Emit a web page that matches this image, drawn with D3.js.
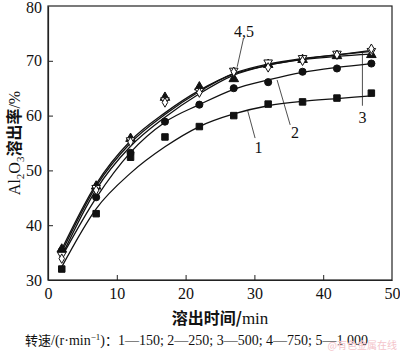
<!DOCTYPE html>
<html>
<head>
<meta charset="utf-8">
<script src="https://cdn.jsdelivr.net/npm/d3@7"></script>
<style>
  body { margin: 0; background: #fff; }
  svg { display: block; }
</style>
</head>
<body>
<div id="chart"></div>
<script>
// sampling times (min)
const times = [2, 7, 12, 17, 22, 27, 32, 37, 42, 47];

// measured points, Al2O3 leaching rate (%)
const s1 = [32.0, 42.1, 52.4, 56.1, 58.0, 60.0, 62.1, 62.5, 63.2, 64.1];
const s2 = [35.3, 45.1, 53.2, 58.9, 62.0, 65.0, 66.1, 68.0, 68.6, 69.5];
const s3 = [35.6, 47.1, 55.8, 63.3, 65.2, 66.7, 69.3, 70.2, 70.9, 71.1];
const s4 = [34.6, 46.8, 55.5, 62.8, 64.5, 68.2, 69.7, 70.5, 71.3, 71.8];
const s5 = [33.9, 46.4, 55.2, 62.4, 64.2, 68.0, 68.8, 70.0, 71.1, 72.2];

// fitted curves at the same times
const f1 = [32.4, 43.0, 49.5, 54.3, 58.0, 60.3, 61.8, 62.6, 63.1, 63.6];
const f2 = [34.2, 45.0, 53.3, 58.8, 62.0, 64.8, 66.5, 67.9, 68.8, 69.5];
const f3 = [35.6, 47.5, 55.4, 60.5, 64.6, 67.6, 69.2, 70.2, 70.8, 71.2];
const f4 = [35.1, 47.1, 55.0, 60.2, 64.4, 67.7, 69.4, 70.4, 71.1, 71.7];
const f5 = [34.4, 46.5, 54.4, 59.7, 64.0, 67.4, 69.2, 70.3, 71.1, 71.9];

const xTicks = [0, 10, 20, 30, 40, 50];
const yTicks = [30, 40, 50, 60, 70, 80];

const W = 400, H = 353;
const margin = { top: 6, right: 8, bottom: 73, left: 48 };
const width = W - margin.left - margin.right;
const height = H - margin.top - margin.bottom;

const svg = d3.select("#chart").append("svg")
  .attr("width", W).attr("height", H);

const g = svg.append("g")
  .attr("transform", `translate(${margin.left},${margin.top})`);

const x = d3.scaleLinear().domain([0, 50]).range([0, width]);
const y = d3.scaleLinear().domain([30, 80]).range([height, 0]);

const serif = "'Liberation Serif', 'Times New Roman', serif";

// frame
g.append("rect")
  .attr("width", width).attr("height", height)
  .attr("fill", "none").attr("stroke", "#222").attr("stroke-width", 1.2);

const xAxis = d3.axisBottom(x).tickValues(xTicks).tickSizeInner(-5).tickSizeOuter(0).tickPadding(8);
const yAxis = d3.axisLeft(y).tickValues(yTicks).tickSizeInner(-5).tickSizeOuter(0).tickPadding(6);

const gx = g.append("g").attr("transform", `translate(0,${height})`).call(xAxis);
const gy = g.append("g").call(yAxis);

[gx, gy].forEach(a => {
  a.select(".domain").attr("stroke", "#222").attr("stroke-width", 1.2);
  a.selectAll(".tick line").attr("stroke", "#222").attr("stroke-width", 1);
  a.selectAll(".tick text")
    .attr("fill", "#111")
    .style("font-family", serif)
    .style("font-size", "16px");
});
// no tick marks at the frame corners
gx.selectAll(".tick").filter(d => d === 0 || d === 50).select("line").remove();
gy.selectAll(".tick").filter(d => d === 30 || d === 80).select("line").remove();
gy.selectAll(".tick").filter(d => d === 80).select("text").attr("dy", "0.4em");

// axis titles
svg.append("text")
  .attr("x", margin.left + width / 2)
  .attr("y", 324)
  .attr("text-anchor", "middle")
  .style("font-family", "'Noto Sans CJK SC', serif")
  .style("font-size", "16px")
  .style("font-weight", "bold")
  .attr("fill", "#111")
  .text("溶出时间/")
  .append("tspan")
  .style("font-family", serif)
  .style("font-size", "17px")
  .style("font-weight", "normal")
  .text("min");

const yt = svg.append("text")
  .attr("transform", `translate(20,${margin.top + height / 2}) rotate(-90)`)
  .attr("text-anchor", "middle")
  .style("font-family", serif)
  .style("font-size", "16px")
  .attr("fill", "#111");
yt.append("tspan").text("Al");
yt.append("tspan").attr("dy", 4).style("font-size", "11px").text("2");
yt.append("tspan").attr("dy", -4).text("O");
yt.append("tspan").attr("dy", 4).style("font-size", "11px").text("3");
yt.append("tspan").attr("dy", -4)
  .style("font-family", "'Noto Sans CJK SC', serif")
  .style("font-weight", "bold")
  .text("溶出率");
yt.append("tspan").text("/%");

// fitted curves
const line = d3.line()
  .x((d, i) => x(times[i]))
  .y(d => y(d))
  .curve(d3.curveMonotoneX);

[f1, f2, f3, f4, f5].forEach(f => {
  g.append("path")
    .attr("d", line(f))
    .attr("fill", "none")
    .attr("stroke", "#111")
    .attr("stroke-width", 1.3);
});

// markers
const series = [
  { data: s1, type: d3.symbolSquare, size: 42, fill: "#111", rot: 0 },
  { data: s2, type: d3.symbolCircle, size: 40, fill: "#111", rot: 0 },
  { data: s3, type: d3.symbolTriangle, size: 40, fill: "#111", rot: 0 },
  { data: s4, type: d3.symbolTriangle, size: 32, fill: "#fff", rot: 180 },
  { data: s5, type: d3.symbolDiamond, size: 26, fill: "#fff", rot: 0 }
];

series.forEach(s => {
  g.selectAll(null)
    .data(s.data)
    .enter()
    .append("path")
    .attr("d", d3.symbol().type(s.type).size(s.size))
    .attr("transform", (d, i) => `translate(${x(times[i])},${y(d)}) rotate(${s.rot})`)
    .attr("fill", s.fill)
    .attr("stroke", "#111")
    .attr("stroke-width", 1);
});

// curve labels with leader lines
const labels = [
  { text: "4,5", tx: 28.5, ty: 74.3, x1: 28.4, y1: 74.0, x2: 27.5, y2: 68.9 },
  { text: "1", tx: 30.6, ty: 53.2, x1: 30.1, y1: 55.9, x2: 29.0, y2: 61.0 },
  { text: "2", tx: 35.9, ty: 55.9, x1: 35.2, y1: 58.3, x2: 33.3, y2: 66.5 },
  { text: "3", tx: 45.7, ty: 58.6, x1: 45.7, y1: 61.8, x2: 45.7, y2: 71.5 }
];

labels.forEach(l => {
  g.append("line")
    .attr("x1", x(l.x1)).attr("y1", y(l.y1))
    .attr("x2", x(l.x2)).attr("y2", y(l.y2))
    .attr("stroke", "#222").attr("stroke-width", 0.8);
  g.append("text")
    .attr("x", x(l.tx)).attr("y", y(l.ty))
    .attr("text-anchor", "middle")
    .style("font-family", serif)
    .style("font-size", "16px")
    .attr("fill", "#111")
    .text(l.text);
});

// footnote
const fn = svg.append("text")
  .attr("x", 25).attr("y", 345)
  .style("font-family", serif)
  .style("font-size", "14px")
  .attr("fill", "#111");
fn.append("tspan").style("font-family", "'Noto Sans CJK SC', serif").style("font-size", "13px").text("转速");
fn.append("tspan").text("/(r·min");
fn.append("tspan").attr("dy", -5).style("font-size", "9px").text("−1");
fn.append("tspan").attr("dy", 5).text(")");
fn.append("tspan").style("font-family", "'Noto Sans CJK SC', serif").style("font-size", "13px").text("：");
fn.append("tspan").text("1—150; 2—250; 3—500; 4—750; 5—1 000");

// watermark
svg.append("text")
  .attr("x", 397).attr("y", 349)
  .attr("text-anchor", "end")
  .style("font-family", "'Noto Sans CJK SC', sans-serif")
  .style("font-size", "10px")
  .attr("fill", "#f4c4ca")
  .text("@有色金属在线");
</script>
</body>
</html>
